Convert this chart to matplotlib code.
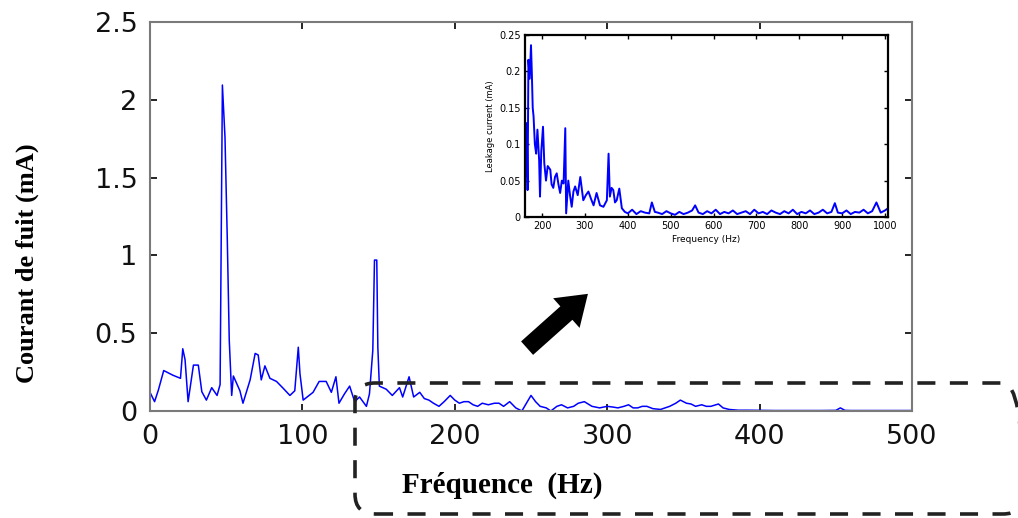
import matplotlib
matplotlib.use("Agg")
import matplotlib.pyplot as plt
from matplotlib.patches import FancyBboxPatch, FancyArrowPatch

# spectre principal (0-500 Hz)
main_freq = [0, 3, 5.5, 9, 15, 20, 21.5, 23, 25, 28.5, 31.7, 34, 37, 40.5, 44, 46,
             47.5, 49.2, 50.7, 52, 53.6, 54.7, 59, 61, 65.7, 69, 71, 73, 75.4, 78.7,
             83, 87, 91.8, 95, 97.3, 98.4, 100.5, 107, 111, 115.6, 119, 122, 124,
             127.6, 131, 134.3, 137.5, 142, 144, 146.2, 147.3, 148.8, 149.5, 150.5,
             155, 159, 163.7, 165.8, 170, 173, 177, 180, 183, 186, 189.6, 193, 197,
             200, 203, 206, 209, 212, 215, 218, 222, 226, 229, 232, 236, 240, 244,
             247, 250, 253, 256, 260, 263, 267, 270, 274, 278, 281, 285, 290, 295,
             300, 304, 307, 311, 314, 317, 320, 323, 326, 330, 335, 338, 341, 345,
             348, 352, 355, 358, 362, 365, 368, 373, 376, 380, 386, 392, 400, 410,
             425, 440, 450, 453, 456, 460, 480, 500]
main_amp = [0.12, 0.06, 0.135, 0.26, 0.23, 0.21, 0.40, 0.33, 0.06, 0.295, 0.295,
            0.124, 0.07, 0.15, 0.10, 0.17, 2.095, 1.76, 1.11, 0.456, 0.10, 0.225,
            0.13, 0.05, 0.20, 0.37, 0.36, 0.20, 0.29, 0.21, 0.19, 0.15, 0.10, 0.13,
            0.41, 0.24, 0.07, 0.12, 0.19, 0.19, 0.12, 0.22, 0.05, 0.11, 0.16, 0.06,
            0.09, 0.03, 0.11, 0.39, 0.97, 0.97, 0.41, 0.16, 0.14, 0.10, 0.15, 0.09,
            0.22, 0.09, 0.12, 0.08, 0.07, 0.05, 0.03, 0.06, 0.10, 0.07, 0.05, 0.06,
            0.06, 0.04, 0.03, 0.05, 0.04, 0.05, 0.05, 0.03, 0.06, 0.02, 0.0, 0.05,
            0.10, 0.06, 0.03, 0.02, 0.0, 0.03, 0.04, 0.02, 0.03, 0.05, 0.06, 0.03,
            0.02, 0.03, 0.025, 0.02, 0.03, 0.04, 0.02, 0.02, 0.03, 0.03, 0.015,
            0.01, 0.02, 0.03, 0.05, 0.07, 0.05, 0.045, 0.03, 0.04, 0.03, 0.03,
            0.045, 0.02, 0.01, 0.005, 0.005, 0.004, 0.003, 0.003, 0.003, 0.004,
            0.02, 0.004, 0.003, 0.003, 0.003]

# zoom (160-1000 Hz)
inset_freq = [160, 164, 166, 168, 171, 174, 176, 178, 180, 183, 186, 189, 193, 195,
              198, 202, 205, 209, 213, 219, 222, 226, 230, 234, 238, 242, 246, 250,
              254, 256, 261, 265, 269, 273, 277, 283, 289, 296, 302, 308, 314, 320,
              327, 335, 343, 351, 355, 358, 362, 366, 370, 374, 380, 386, 393, 400,
              410, 420, 430, 440, 450, 456, 463, 470, 480, 490, 500, 510, 520, 530,
              540, 550, 557, 565, 575, 585, 595, 605, 615, 625, 635, 645, 655, 665,
              675, 685, 695, 705, 715, 725, 735, 745, 755, 765, 775, 785, 795, 805,
              815, 825, 835, 845, 855, 865, 875, 883, 890, 900, 910, 920, 930, 940,
              950, 960, 970, 980, 990, 1000, 1007]
inset_amp = [0.05, 0.129, 0.037, 0.216, 0.19, 0.236, 0.197, 0.15, 0.138, 0.10,
             0.087, 0.12, 0.078, 0.028, 0.09, 0.124, 0.074, 0.05, 0.07, 0.065,
             0.045, 0.04, 0.055, 0.06, 0.045, 0.033, 0.05, 0.046, 0.122, 0.005,
             0.05, 0.03, 0.014, 0.035, 0.042, 0.03, 0.055, 0.023, 0.03, 0.035,
             0.025, 0.016, 0.033, 0.016, 0.014, 0.023, 0.087, 0.028, 0.04, 0.037,
             0.02, 0.023, 0.039, 0.012, 0.007, 0.005, 0.01, 0.004, 0.008, 0.006,
             0.005, 0.02, 0.007, 0.006, 0.004, 0.008, 0.005, 0.003, 0.007, 0.004,
             0.006, 0.009, 0.016, 0.006, 0.004, 0.008, 0.005, 0.01, 0.004, 0.007,
             0.005, 0.009, 0.004, 0.006, 0.008, 0.004, 0.01, 0.005, 0.007, 0.004,
             0.009, 0.006, 0.004, 0.008, 0.005, 0.01, 0.004, 0.007, 0.005, 0.009,
             0.004, 0.006, 0.01, 0.005, 0.007, 0.019, 0.006, 0.005, 0.009, 0.004,
             0.007, 0.006, 0.01, 0.005, 0.008, 0.02, 0.006, 0.009, 0.012]

main_xticks = [0, 100, 200, 300, 400, 500]
main_yticks = [0, 0.5, 1, 1.5, 2, 2.5]
main_yticklabels = ["0", "0.5", "1", "1.5", "2", "2.5"]
inset_xticks = [200, 300, 400, 500, 600, 700, 800, 900, 1000]
inset_yticks = [0, 0.05, 0.1, 0.15, 0.2, 0.25]
inset_yticklabels = ["0", "0.05", "0.1", "0.15", "0.2", "0.25"]

W, H = 1018, 518
fig = plt.figure(figsize=(W / 100, H / 100), dpi=100)

ax = fig.add_axes([150 / W, 1 - 411 / H, (912 - 150) / W, (411 - 22) / H])
ax.plot(main_freq, main_amp, color="#0000ff", lw=1.1)
ax.set_xlim(0, 500)
ax.set_ylim(0, 2.5)
ax.set_xticks(main_xticks)
ax.set_yticks(main_yticks)
ax.set_yticklabels(main_yticklabels)
ax.tick_params(direction="in", length=5, width=1.2, top=True, right=True,
               labelsize=19.5, pad=9, labelcolor="#111111")
for lab in ax.get_xticklabels() + ax.get_yticklabels():
    lab.set_family("DejaVu Sans")
for s in ax.spines.values():
    s.set_color("#7a7a7a")
    s.set_linewidth(1.5)

fig.text(27 / W, 1 - 263 / H, "Courant de fuit (mA)", rotation=90, ha="center",
         va="center", family="Liberation Serif", weight="bold", fontsize=19)
fig.text(502 / W, 1 - 485 / H, "Fréquence  (Hz)", ha="center", va="center",
         family="Liberation Serif", weight="bold", fontsize=21)

# encart
ins = fig.add_axes([525 / W, 1 - 217 / H, (888 - 525) / W, (217 - 35) / H])
ins.plot(inset_freq, inset_amp, color="#0000ff", lw=1.4)
ins.set_xlim(160, 1007)
ins.set_ylim(0, 0.25)
ins.set_xticks(inset_xticks)
ins.set_yticks(inset_yticks)
ins.set_yticklabels(inset_yticklabels)
ins.tick_params(direction="in", length=3, width=1, top=True, right=True,
                labelsize=7, pad=3)
for s in ins.spines.values():
    s.set_color("black")
    s.set_linewidth(1.6)
ins.set_xlabel("Frequency (Hz)", fontsize=6.5, labelpad=3)
ins.set_ylabel("Leakage current (mA)", fontsize=6, labelpad=3)

# fleche vers l'encart
arrow = FancyArrowPatch((5.25, 1.68), (5.90, 2.26), transform=fig.dpi_scale_trans,
                        arrowstyle="simple,head_width=2.2,head_length=1.6,tail_width=1.0",
                        mutation_scale=13, color="black", lw=0)
fig.add_artist(arrow)

# cadre pointille arrondi
box = FancyBboxPatch((3.55, 0.04), 6.68, 1.31, transform=fig.dpi_scale_trans,
                     boxstyle="round,pad=0,rounding_size=0.2", fill=False,
                     edgecolor="#222222", lw=2.6, linestyle=(0, (5, 4)))
fig.add_artist(box)

fig.savefig("out.png", dpi=100)
